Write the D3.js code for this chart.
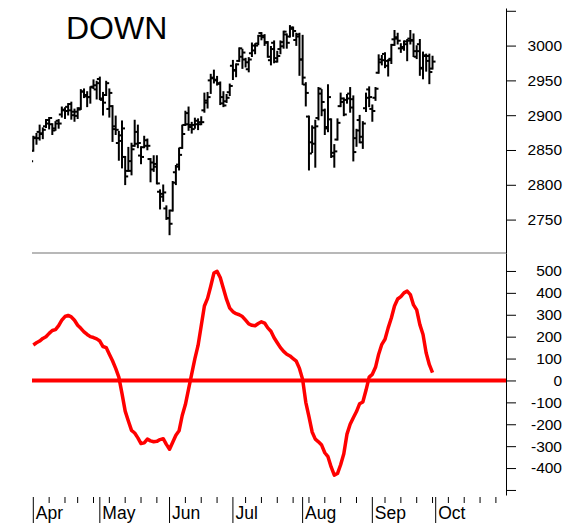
<!DOCTYPE html>
<html>
<head>
<meta charset="utf-8">
<script src="https://cdn.jsdelivr.net/npm/d3@7"></script>
<style>
body { margin: 0; background: #fff; }
text { font-family: 'Liberation Sans', Arial, sans-serif; fill: #000; }
</style>
</head>
<body>
<svg id="chart" width="580" height="525"></svg>
<script>
// daily bars, Mar 29 .. Sep 30 (trading days)
var opens = [2828,
    2849,2868,2876,2874,2884,2888,2887,2881,2892,2901,2908,2912,2916,2905,2899,2910,2934,2929,2926,2941,2937,
    2952,2922,2929,2909,2913,2880,2860,2863,2840,2820,2820,2856,2859,2842,2854,2856,2837,2832,2830,2790,2787,2766,
    2752,2763,2818,2829,2853,2886,2903,2883,2886,2887,2890,2907,2921,2950,2953,2951,2946,2926,2920,2933,
    2971,2965,2978,2984,2980,2966,2989,3000,3003,3018,3012,3005,2979,3004,2982,2995,2999,3016,3013,3024,3008,3016,
    2980,2944,2898,2861,2859,2896,2931,2907,2881,2894,2846,2865,2913,2919,2922,2931,2911,2867,2893,2861,2910,2937,
    2909,2925,2961,2980,2988,2971,2981,3009,3012,2996,2996,3002,3010,3008,2984,3002,2968,2986,2985,2967];
var highs = [2836,
    2869,2873,2885,2881,2893,2896,2887,2890,2893,2911,2910,2916,2918,2908,2910,2936,2937,2933,2940,2950,2948,
    2954,2932,2948,2937,2913,2898,2876,2891,2840,2853,2859,2892,2885,2854,2869,2865,2837,2841,2841,2792,2799,2769,
    2763,2804,2827,2852,2885,2905,2911,2889,2895,2894,2897,2931,2932,2958,2964,2955,2947,2933,2929,2944,
    2978,2973,2996,2994,2981,2982,3003,3002,3014,3018,3015,3005,2998,3006,2991,3006,3020,3016,3028,3026,3017,3017,
    3014,2946,2898,2884,2892,2939,2936,2908,2943,2894,2857,2894,2931,2924,2929,2939,2927,2879,2899,2890,2931,2940,
    2914,2939,2986,2985,2989,2979,3001,3021,3017,3002,3006,3008,3021,3016,2999,3008,2990,2987,2987,2984];
var lows = [2819,
    2849,2859,2865,2867,2883,2881,2873,2879,2882,2898,2896,2901,2895,2892,2896,2909,2926,2913,2918,2939,2924,
    2923,2901,2929,2898,2863,2873,2836,2825,2801,2820,2815,2856,2854,2831,2854,2851,2805,2820,2802,2766,2777,2751,
    2729,2763,2801,2822,2853,2886,2879,2875,2882,2880,2887,2905,2911,2932,2947,2944,2916,2913,2919,2929,
    2952,2956,2978,2968,2970,2963,2985,2989,3002,3009,3001,2984,2973,2976,2977,2989,2997,2997,3013,3014,3001,2958,
    2945,2914,2822,2847,2826,2894,2900,2873,2877,2840,2826,2865,2913,2900,2918,2905,2835,2856,2861,2853,2906,2913,
    2892,2922,2961,2973,2969,2957,2975,3001,3003,2991,2994,2979,3003,2985,2982,2958,2953,2964,2946,2967];
var closes = [2834,
    2867,2867,2873,2879,2893,2896,2878,2888,2888,2907,2906,2907,2900,2905,2908,2934,2927,2926,2940,2943,2946,
    2924,2918,2946,2932,2884,2879,2871,2881,2812,2834,2851,2876,2860,2840,2864,2856,2822,2826,2802,2783,2789,2752,
    2744,2803,2826,2843,2873,2887,2886,2880,2892,2887,2890,2918,2926,2954,2950,2945,2917,2914,2925,2942,
    2964,2973,2996,2990,2976,2980,2993,3000,3014,3014,3004,2984,2995,2977,2985,3005,3020,3004,3026,3021,3013,2980,
    2954,2932,2845,2882,2884,2938,2919,2883,2926,2841,2848,2889,2924,2901,2924,2923,2847,2878,2869,2888,2925,2926,
    2906,2938,2976,2979,2978,2979,3001,3010,3007,2998,3006,3007,3007,2992,2992,2967,2985,2978,2962,2977];

// oscillator, Apr 1 .. Sep 30
var osc = [162,172,180,192,200,215,228,232,250,275,292,297,290,275,252,238,222,210,200,196,190,
    180,155,150,120,90,55,15,-60,-140,-185,-228,-240,-262,-288,-285,-268,-276,-280,-278,-270,-266,-292,
    -314,-282,-250,-230,-160,-110,-40,30,100,160,250,340,375,430,490,498,470,420,370,330,
    314,305,300,292,275,258,252,250,260,268,262,240,225,195,172,150,133,120,112,100,88,55,
    5,-100,-165,-235,-268,-280,-295,-330,-348,-395,-432,-425,-385,-335,-245,-200,-170,-142,-106,-98,-45,15,
    28,60,120,165,188,240,285,340,372,383,400,408,392,345,322,255,210,125,72,36];

var priceTicks = [2750, 2800, 2850, 2900, 2950, 3000];
var oscTicks = [-400, -300, -200, -100, 0, 100, 200, 300, 400, 500];
var holidays = ['2019-04-19', '2019-05-27', '2019-07-04', '2019-09-02'];
var monthNames = ['Jan','Feb','Mar','Apr','May','Jun','Jul','Aug','Sep','Oct','Nov','Dec'];

var fmt = d3.timeFormat('%Y-%m-%d');
var days = d3.timeDay.range(new Date(2019, 2, 29), new Date(2019, 10, 1))
    .filter(function(d) {
        return d.getDay() > 0 && d.getDay() < 6 && holidays.indexOf(fmt(d)) < 0;
    });

var plotLeft = 32, plotRight = 506, plotTop = 8, plotMid = 253, plotBottom = 495;

var svg = d3.select('#chart');

var x = d3.scaleLinear().domain([1, 128]).range([33.3, 435.7]);
var yP = d3.scaleLinear().domain([2702, 3054]).range([plotMid, plotTop]);
var yO = d3.scaleLinear().domain([-523, 582]).range([plotBottom, plotMid]);

svg.append('clipPath').attr('id', 'clipTop')
    .append('rect').attr('x', plotLeft).attr('y', plotTop)
    .attr('width', plotRight - plotLeft).attr('height', plotMid - plotTop);

// title
svg.append('text')
    .attr('x', 66).attr('y', 39)
    .style('font-size', '32px')
    .text('DOWN');

// price bars
var bars = svg.append('g').attr('clip-path', 'url(#clipTop)')
    .attr('stroke', '#000').attr('stroke-width', 2);

closes.forEach(function(c, i) {
    var cx = x(i);
    bars.append('line').attr('x1', cx).attr('x2', cx)
        .attr('y1', yP(highs[i]) - 1).attr('y2', yP(lows[i]) + 1);
    bars.append('line').attr('x1', cx - 3).attr('x2', cx)
        .attr('y1', yP(opens[i])).attr('y2', yP(opens[i]));
    bars.append('line').attr('x1', cx).attr('x2', cx + 3)
        .attr('y1', yP(c)).attr('y2', yP(c));
});

// panel separator
svg.append('line')
    .attr('x1', plotLeft).attr('x2', plotRight)
    .attr('y1', plotMid).attr('y2', plotMid)
    .attr('stroke', '#a0a0a0').attr('stroke-width', 1.5);

// zero line
svg.append('line')
    .attr('x1', plotLeft).attr('x2', plotRight)
    .attr('y1', yO(0)).attr('y2', yO(0))
    .attr('stroke', '#ff0000').attr('stroke-width', 4);

// oscillator line
var line = d3.line()
    .x(function(d, i) { return x(i + 1); })
    .y(function(d) { return yO(d); });

svg.append('path')
    .datum(osc)
    .attr('d', line)
    .attr('fill', 'none')
    .attr('stroke', '#ff0000')
    .attr('stroke-width', 3.5)
    .attr('stroke-linejoin', 'round');

// right axes
function rightAxis(scale, minor, major, labels) {
    var g = svg.append('g').attr('transform', 'translate(' + plotRight + ',0)');
    g.call(d3.axisRight(scale).tickValues(minor).tickSize(5).tickSizeOuter(0).tickFormat(''));
    g.call(d3.axisRight(scale).tickValues(major).tickSize(10).tickSizeOuter(0).tickFormat(''));
    g.selectAll('path, line').attr('stroke', '#000');
    g.selectAll('text').remove();
    g.selectAll('.lbl').data(labels).enter().append('text')
        .attr('x', 56).attr('y', function(d) { return scale(d); })
        .attr('dy', '0.35em')
        .attr('text-anchor', 'end')
        .style('font-size', '15.5px')
        .text(function(d) { return d; });
}

rightAxis(yP, d3.range(2710, 3060, 10), d3.range(2750, 3051, 50), priceTicks);
rightAxis(yO, d3.range(-500, 551, 50), d3.range(-500, 501, 100), oscTicks);

// time axis: month lines and weekly ticks
var xAxis = svg.append('g').attr('stroke', '#000').attr('stroke-width', 1);
days.forEach(function(d, i) {
    if (i === 0 || x(i) > plotRight - 1) return;
    var prev = days[i - 1];
    if (d.getMonth() !== prev.getMonth()) {
        xAxis.append('line').attr('x1', x(i)).attr('x2', x(i)).attr('y1', 497).attr('y2', 523);
        svg.append('text')
            .attr('x', x(i) + 2.5).attr('y', 519)
            .style('font-size', '17.5px')
            .text(monthNames[d.getMonth()]);
    } else if (d.getDay() < prev.getDay()) {
        xAxis.append('line').attr('x1', x(i)).attr('x2', x(i)).attr('y1', 497).attr('y2', 503);
    }
});
</script>
</body>
</html>
